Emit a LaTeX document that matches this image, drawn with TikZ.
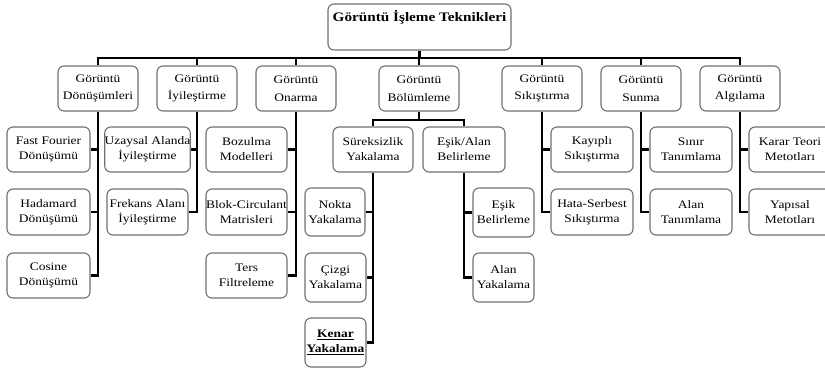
\documentclass[tikz,border=0pt]{standalone}
\usepackage{fontspec}
\setmainfont{Liberation Serif}[FakeStretch=1.17]
\usetikzlibrary{backgrounds}
\definecolor{boxgray}{HTML}{707070}
\begin{document}
\begin{tikzpicture}[x=1pt,y=-1pt,
  box/.style={draw=boxgray, line width=1.1pt, rounded corners=6pt, fill=white,
    align=center, inner sep=0pt, font=\fontsize{11.5}{15}\selectfont},
  lvone/.style={box, minimum width=80pt, minimum height=45pt,
    font=\fontsize{11.5}{17.5}\selectfont},
  conn/.style={line width=2.6pt, black}]
\useasboundingbox (0,0) rectangle (825,368);
\clip (0,0) rectangle (825,368);

% root
\node[box, minimum width=183pt, minimum height=46pt, text height=17pt, text depth=29pt,
  font=\bfseries\fontsize{13}{15}\selectfont] (root) at (419.5,27) {Görüntü İşleme Teknikleri};

% level 1
\node[lvone] (don) at (98,88.5) {Görüntü\\Dönüşümleri};
\node[lvone] (iyi) at (197,88.5) {Görüntü\\İyileştirme};
\node[lvone] (ona) at (296,88.5) {Görüntü\\Onarma};
\node[lvone] (bol) at (419,88.5) {Görüntü\\Bölümleme};
\node[lvone] (sik) at (542,88.5) {Görüntü\\Sıkıştırma};
\node[lvone] (sun) at (641,88.5) {Görüntü\\Sunma};
\node[lvone] (alg) at (740,88.5) {Görüntü\\Algılama};

% Dönüşümleri children
\node[box, minimum width=83pt, minimum height=45pt] (don1) at (48.5,149.5) {Fast Fourier\\Dönüşümü};
\node[box, minimum width=83pt, minimum height=46pt] (don2) at (48.5,212) {Hadamard\\Dönüşümü};
\node[box, minimum width=83pt, minimum height=45pt] (don3) at (48.5,275.5) {Cosine\\Dönüşümü};

% İyileştirme children
\node[box, minimum width=81pt, minimum height=45pt] (iyi1) at (147.5,149.5) {Uzaysal Alanda\\İyileştirme};
\node[box, minimum width=81pt, minimum height=46pt] (iyi2) at (147.5,212) {Frekans Alanı\\İyileştirme};

% Onarma children
\node[box, minimum width=81pt, minimum height=45pt] (ona1) at (246.5,149.5) {Bozulma\\Modelleri};
\node[box, minimum width=81pt, minimum height=46pt] (ona2) at (246.5,212) {Blok-Circulant\\Matrisleri};
\node[box, minimum width=81pt, minimum height=45pt] (ona3) at (246.5,275.5) {Ters\\Filtreleme};

% Bölümleme children
\node[box, minimum width=80pt, minimum height=45pt] (sur) at (373,149.5) {Süreksizlik\\Yakalama};
\node[box, minimum width=82pt, minimum height=45pt] (esa) at (464,149.5) {Eşik/Alan\\Belirleme};

\node[box, minimum width=60pt, minimum height=48pt] (sur1) at (335,212) {Nokta\\Yakalama};
\node[box, minimum width=61pt, minimum height=49pt] (sur2) at (335.5,277.5) {Çizgi\\Yakalama};
\node[box, minimum width=61pt, minimum height=49pt, font=\bfseries\fontsize{11.5}{15}\selectfont] (sur3) at (335.5,342.5) {\underline{Kenar}\\\underline{Yakalama}};

\node[box, minimum width=61pt, minimum height=49pt] (esa1) at (503.5,212.5) {Eşik\\Belirleme};
\node[box, minimum width=61pt, minimum height=49pt] (esa2) at (503.5,277.5) {Alan\\Yakalama};

% Sıkıştırma children
\node[box, minimum width=82pt, minimum height=45pt] (sik1) at (592,149.5) {Kayıplı\\Sıkıştırma};
\node[box, minimum width=82pt, minimum height=46pt] (sik2) at (592,212) {Hata-Serbest\\Sıkıştırma};

% Sunma children
\node[box, minimum width=82pt, minimum height=45pt] (sun1) at (691,149.5) {Sınır\\Tanımlama};
\node[box, minimum width=82pt, minimum height=46pt] (sun2) at (691,212) {Alan\\Tanımlama};

% Algılama children
\node[box, minimum width=82pt, minimum height=45pt] (alg1) at (790,149.5) {Karar Teori\\Metotları};
\node[box, minimum width=82pt, minimum height=46pt] (alg2) at (790,212) {Yapısal\\Metotları};

\coordinate (bus) at (419.5,58);
\coordinate (bbus) at (419,120);

\begin{pgfonlayer}{background}
  \draw[conn] (root.south) -- (bus);
  \foreach \n in {don,iyi,ona,bol,sik,sun,alg} \draw[conn] (bus) -| (\n.north);
  \foreach \c in {don1,don2,don3} \draw[conn] (don.south) |- (\c.east);
  \foreach \c in {iyi1,iyi2} \draw[conn] (iyi.south) |- (\c.east);
  \foreach \c in {ona1,ona2,ona3} \draw[conn] (ona.south) |- (\c.east);
  \draw[conn] (bol.south) -- (bbus);
  \draw[conn] (bbus) -| (sur.north);
  \draw[conn] (bbus) -| (esa.north);
  \foreach \c in {sur1,sur2,sur3} \draw[conn] (sur.south) |- (\c.east);
  \foreach \c in {esa1,esa2} \draw[conn] (esa.south) |- (\c.west);
  \foreach \c in {sik1,sik2} \draw[conn] (sik.south) |- (\c.west);
  \foreach \c in {sun1,sun2} \draw[conn] (sun.south) |- (\c.west);
  \foreach \c in {alg1,alg2} \draw[conn] (alg.south) |- (\c.west);
\end{pgfonlayer}
\end{tikzpicture}
\end{document}
